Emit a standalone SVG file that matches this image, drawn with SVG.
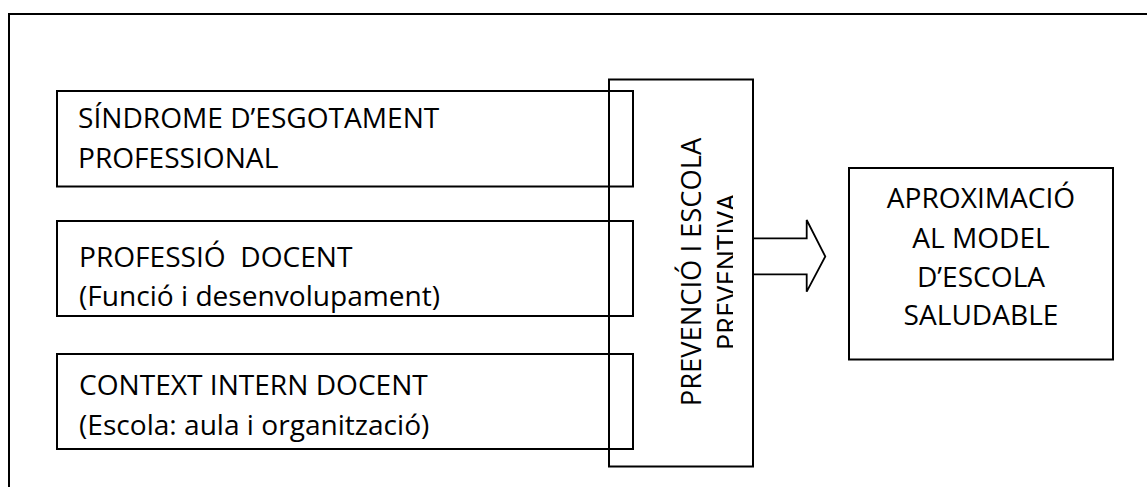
<svg xmlns="http://www.w3.org/2000/svg" width="1147" height="487" viewBox="0 0 1147 487">
  <style>
    .box { fill: none; stroke: #000; stroke-width: 2; }
    .t { font-family: "Open Sans", "Liberation Sans", Arial, sans-serif; font-size: 28.1px; fill: #000; }
    .v { font-family: "Open Sans", "Liberation Sans", Arial, sans-serif; font-size: 27.3px; fill: #000; text-anchor: middle; }
    .c { text-anchor: middle; }
  </style>
  <defs>
    <clipPath id="vclip">
      <rect x="610" y="80" width="123" height="386"/>
    </clipPath>
  </defs>
  <rect width="1147" height="487" fill="#fff"/>
  <g id="frame">
    <path d="M9,490 V14 H1150" fill="none" stroke="#000" stroke-width="2"/>
  </g>
  <g id="sindrome">
    <rect class="box" x="57" y="91" width="576" height="95.5"/>
    <text class="t" x="78" y="128.3">SÍNDROME D’ESGOTAMENT</text>
    <text class="t" x="78" y="167.7">PROFESSIONAL</text>
  </g>
  <g id="professio">
    <rect class="box" x="57" y="221" width="576" height="95"/>
    <text class="t" x="79" y="267" xml:space="preserve">PROFESSIÓ  DOCENT</text>
    <text class="t" x="79" y="305.7">(Funció i desenvolupament)</text>
  </g>
  <g id="context">
    <rect class="box" x="57" y="354" width="576" height="95"/>
    <text class="t" x="79" y="395">CONTEXT INTERN DOCENT</text>
    <text class="t" x="79" y="434.5">(Escola: aula i organització)</text>
  </g>
  <g id="prevencio">
    <rect class="box" x="609" y="79.5" width="144" height="387"/>
    <text class="v" transform="translate(701,272) rotate(-90)">PREVENCIÓ I ESCOLA</text>
    <g clip-path="url(#vclip)">
      <text class="v" transform="translate(737,272) rotate(-90)">PREVENTIVA</text>
    </g>
  </g>
  <g id="aproximacio">
    <rect class="box" x="849" y="168" width="264" height="191.5"/>
    <text class="t c" x="981" y="208.3">APROXIMACIÓ</text>
    <text class="t c" x="981" y="248.3">AL MODEL</text>
    <text class="t c" x="981" y="286.7">D’ESCOLA</text>
    <text class="t c" x="981" y="325">SALUDABLE</text>
  </g>
  <g id="connectors">
    <polygon points="753,238.3 806.7,238.3 806.7,220 825.3,256.5 806.7,291.7 806.7,274.3 753,274.3" fill="none" stroke="#000" stroke-width="1.8" stroke-linejoin="miter"/>
  </g>
</svg>
